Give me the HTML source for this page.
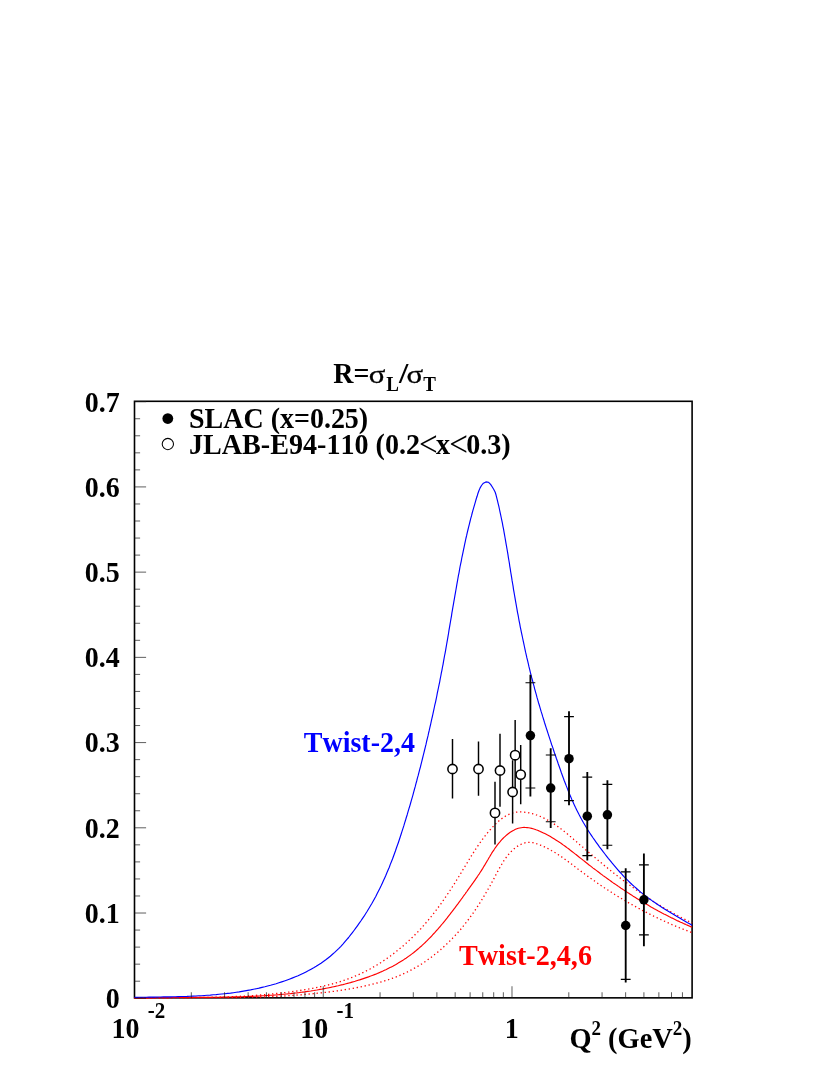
<!DOCTYPE html>
<html><head><meta charset="utf-8"><title>R = sigma_L / sigma_T</title>
<style>
html,body{margin:0;padding:0;background:#fff;}
body{width:830px;height:1075px;overflow:hidden;}
svg{display:block;will-change:transform;}
text{font-family:"Liberation Serif",serif;font-weight:bold;font-size:28px;fill:#000;font-kerning:none;font-variant-ligatures:none;}
.sym{font-weight:normal;}
</style></head><body>
<svg width="830" height="1075" viewBox="0 0 830 1075">
<rect x="0" y="0" width="830" height="1075" fill="#fff"/>
<rect x="134.5" y="401.3" width="557.6" height="596.55" fill="none" stroke="#000" stroke-width="1.6"/>
<path d="M134.5,998.1L136.1,998.1L137.7,998.0L139.3,998.0L140.9,998.0L142.5,998.0L144.1,998.0L145.7,997.9L147.3,997.9L148.9,997.9L150.5,997.9L152.1,997.9L153.7,997.9L155.3,997.9L156.9,997.8L158.5,997.8L160.1,997.8L161.7,997.8L163.3,997.8L164.9,997.8L166.5,997.8L168.1,997.8L169.7,997.8L171.3,997.8L172.9,997.7L174.5,997.7L176.1,997.7L177.7,997.7L179.3,997.7L180.9,997.7L182.4,997.7L184.0,997.7L185.6,997.6L187.2,997.6L188.8,997.6L190.4,997.6L192.0,997.6L193.6,997.6L195.2,997.5L196.8,997.5L198.4,997.5L200.0,997.5L201.6,997.5L203.2,997.4L204.8,997.4L206.4,997.4L208.0,997.3L209.6,997.3L211.1,997.3L212.7,997.2L214.3,997.2L215.9,997.2L217.5,997.1L219.1,997.1L220.7,997.0L222.3,997.0L223.9,996.9L225.5,996.9L227.1,996.8L228.7,996.8L230.2,996.7L231.8,996.7L233.4,996.6L235.0,996.5L236.6,996.5L238.2,996.4L239.8,996.3L241.4,996.2L243.0,996.1L244.6,996.1L246.1,996.0L247.7,995.9L249.3,995.8L250.9,995.7L252.5,995.6L254.1,995.5L255.7,995.4L257.3,995.2L258.9,995.1L260.4,995.0L262.0,994.9L263.6,994.7L265.2,994.6L266.8,994.5L268.4,994.3L270.0,994.2L271.6,994.0L273.1,993.9L274.7,993.7L276.3,993.5L277.9,993.4L279.5,993.2L281.1,993.0L282.7,992.8L284.3,992.7L285.8,992.5L287.4,992.3L289.0,992.1L290.6,991.8L292.2,991.6L293.8,991.4L295.3,991.2L296.9,991.0L298.5,990.7L300.1,990.5L301.7,990.2L303.3,990.0L304.9,989.7L306.4,989.5L308.0,989.2L309.6,988.9L311.2,988.6L312.8,988.3L314.3,988.0L315.9,987.7L317.5,987.4L319.1,987.1L320.6,986.7L322.2,986.4L323.8,986.0L325.3,985.7L326.9,985.3L328.5,984.9L330.0,984.5L331.6,984.1L333.1,983.7L334.6,983.3L336.2,982.8L337.7,982.4L339.2,981.9L340.8,981.4L342.3,980.9L343.8,980.4L345.3,979.9L346.8,979.4L348.3,978.8L349.8,978.3L351.3,977.7L352.8,977.1L354.2,976.5L355.7,975.9L357.2,975.3L358.6,974.6L360.1,974.0L361.5,973.3L362.9,972.6L364.4,971.9L365.8,971.2L367.2,970.4L368.6,969.7L370.0,969.0L371.4,968.2L372.8,967.4L374.2,966.6L375.5,965.8L376.9,965.0L378.3,964.2L379.6,963.3L381.0,962.5L382.3,961.6L383.6,960.7L385.0,959.8L386.3,958.9L387.6,958.0L388.9,957.1L390.2,956.2L391.5,955.2L392.7,954.3L394.0,953.3L395.3,952.3L396.5,951.3L397.8,950.3L399.0,949.3L400.2,948.3L401.5,947.3L402.7,946.2L403.9,945.2L405.1,944.1L406.3,943.1L407.4,942.0L408.6,940.9L409.8,939.8L410.9,938.7L412.1,937.6L413.2,936.5L414.4,935.4L415.5,934.2L416.6,933.1L417.7,932.0L418.8,930.8L419.9,929.6L421.0,928.5L422.0,927.3L423.1,926.1L424.2,924.9L425.2,923.7L426.2,922.5L427.3,921.3L428.3,920.1L429.3,918.8L430.3,917.6L431.3,916.4L432.3,915.1L433.3,913.9L434.3,912.6L435.3,911.4L436.2,910.1L437.2,908.8L438.1,907.5L439.1,906.3L440.0,905.0L441.0,903.7L441.9,902.4L442.8,901.1L443.7,899.8L444.6,898.5L445.5,897.1L446.5,895.8L447.3,894.5L448.2,893.2L449.1,891.8L450.0,890.5L450.9,889.2L451.8,887.8L452.6,886.5L453.5,885.1L454.3,883.8L455.2,882.4L456.0,881.1L456.9,879.7L457.7,878.3L458.6,877.0L459.4,875.6L460.2,874.2L461.1,872.9L461.9,871.5L462.7,870.1L463.6,868.8L464.4,867.4L465.2,866.0L466.0,864.6L466.9,863.3L467.7,861.9L468.5,860.5L469.4,859.2L470.2,857.8L471.0,856.4L471.9,855.1L472.7,853.7L473.6,852.4L474.4,851.0L475.3,849.7L476.2,848.3L477.1,847.0L478.0,845.7L478.9,844.4L479.8,843.1L480.7,841.8L481.7,840.5L482.6,839.2L483.6,837.9L484.5,836.6L485.5,835.4L486.5,834.1L487.5,832.9L488.6,831.7L489.6,830.4L490.7,829.2L491.7,828.0L492.8,826.9L494.0,825.7L495.1,824.5L496.2,823.4L497.4,822.3L498.6,821.2L499.8,820.2L501.0,819.2L502.3,818.2L503.6,817.3L504.9,816.5L506.2,815.7L507.6,815.0L509.0,814.3L510.4,813.7L511.8,813.2L513.3,812.8L514.8,812.5L516.3,812.2L517.8,812.0L519.4,811.9L520.9,811.9L522.5,812.0L524.1,812.1L525.6,812.3L527.2,812.5L528.8,812.8L530.4,813.2L531.9,813.6L533.5,814.0L535.0,814.5L536.6,815.0L538.1,815.6L539.6,816.2L541.1,816.8L542.5,817.5L544.0,818.2L545.4,818.9L546.8,819.6L548.2,820.4L549.6,821.2L550.9,822.0L552.3,822.8L553.6,823.7L555.0,824.6L556.3,825.5L557.6,826.4L558.9,827.3L560.2,828.3L561.4,829.2L562.7,830.2L564.0,831.2L565.2,832.2L566.4,833.2L567.7,834.2L568.9,835.2L570.1,836.3L571.4,837.3L572.6,838.3L573.8,839.4L575.0,840.4L576.2,841.5L577.4,842.6L578.6,843.6L579.8,844.7L581.1,845.7L582.3,846.8L583.5,847.8L584.7,848.9L585.9,849.9L587.1,851.0L588.3,852.0L589.6,853.1L590.8,854.1L592.0,855.1L593.2,856.2L594.4,857.2L595.7,858.2L596.9,859.3L598.1,860.3L599.3,861.3L600.6,862.3L601.8,863.3L603.0,864.4L604.3,865.4L605.5,866.4L606.8,867.4L608.0,868.4L609.2,869.4L610.5,870.4L611.7,871.4L613.0,872.4L614.2,873.4L615.5,874.3L616.7,875.3L618.0,876.3L619.3,877.3L620.5,878.2L621.8,879.2L623.0,880.2L624.3,881.1L625.6,882.1L626.9,883.0L628.1,884.0L629.4,884.9L630.7,885.9L632.0,886.8L633.3,887.7L634.6,888.7L635.9,889.6L637.2,890.5L638.5,891.4L639.8,892.3L641.1,893.2L642.4,894.1L643.7,895.0L645.0,895.9L646.3,896.8L647.7,897.7L649.0,898.6L650.3,899.4L651.7,900.3L653.0,901.2L654.3,902.0L655.7,902.9L657.0,903.7L658.4,904.6L659.8,905.4L661.1,906.2L662.5,907.1L663.8,907.9L665.2,908.7L666.6,909.5L668.0,910.3L669.4,911.1L670.8,911.9L672.2,912.7L673.6,913.4L675.0,914.2L676.4,915.0L677.8,915.7L679.2,916.5L680.6,917.2L682.0,918.0L683.5,918.7L684.9,919.4L686.4,920.2L687.8,920.9L689.3,921.6L690.7,922.3L692.1,922.9" stroke="#ff0000" stroke-width="1.3" fill="none" stroke-dasharray="1.3 2.75" stroke-linejoin="round"/>
<path d="M134.5,998.1L136.0,998.1L137.6,998.1L139.1,998.1L140.7,998.1L142.2,998.1L143.7,998.1L145.3,998.0L146.8,998.0L148.4,998.0L149.9,998.0L151.5,997.9L153.0,997.9L154.5,997.9L156.1,997.9L157.6,997.9L159.2,997.9L160.7,997.9L162.3,997.8L163.8,997.8L165.3,997.8L166.9,997.8L168.4,997.8L170.0,997.8L171.5,997.8L173.1,997.8L174.6,997.8L176.1,997.8L177.7,997.8L179.2,997.8L180.8,997.8L182.3,997.8L183.9,997.8L185.4,997.8L186.9,997.8L188.5,997.8L190.0,997.8L191.6,997.8L193.1,997.8L194.7,997.7L196.2,997.7L197.7,997.7L199.3,997.7L200.8,997.7L202.4,997.7L203.9,997.7L205.5,997.7L207.0,997.7L208.5,997.7L210.1,997.7L211.6,997.7L213.2,997.7L214.7,997.7L216.2,997.7L217.8,997.7L219.3,997.7L220.9,997.7L222.4,997.7L224.0,997.7L225.5,997.6L227.0,997.6L228.6,997.6L230.1,997.6L231.7,997.6L233.2,997.6L234.8,997.5L236.3,997.5L237.8,997.5L239.4,997.5L240.9,997.5L242.5,997.4L244.0,997.4L245.5,997.4L247.1,997.3L248.6,997.3L250.2,997.3L251.7,997.2L253.2,997.2L254.8,997.2L256.3,997.1L257.9,997.1L259.4,997.0L260.9,997.0L262.5,996.9L264.0,996.9L265.6,996.8L267.1,996.8L268.6,996.7L270.2,996.6L271.7,996.6L273.3,996.5L274.8,996.4L276.3,996.4L277.9,996.3L279.4,996.2L280.9,996.1L282.5,996.0L284.0,996.0L285.6,995.9L287.1,995.8L288.6,995.7L290.2,995.6L291.7,995.5L293.2,995.4L294.8,995.3L296.3,995.2L297.8,995.0L299.4,994.9L300.9,994.8L302.4,994.7L304.0,994.5L305.5,994.4L307.1,994.3L308.6,994.1L310.1,994.0L311.7,993.9L313.2,993.7L314.7,993.5L316.3,993.4L317.8,993.2L319.3,993.1L320.8,992.9L322.4,992.7L323.9,992.5L325.4,992.4L327.0,992.2L328.5,992.0L330.0,991.8L331.6,991.6L333.1,991.4L334.6,991.2L336.2,991.0L337.7,990.8L339.2,990.5L340.7,990.3L342.3,990.1L343.8,989.8L345.3,989.6L346.9,989.4L348.4,989.1L349.9,988.8L351.4,988.6L353.0,988.3L354.5,988.0L356.0,987.8L357.5,987.5L359.0,987.2L360.6,986.9L362.1,986.6L363.6,986.3L365.1,985.9L366.6,985.6L368.1,985.3L369.6,984.9L371.1,984.6L372.6,984.2L374.1,983.8L375.6,983.4L377.1,983.0L378.6,982.6L380.1,982.2L381.6,981.8L383.0,981.4L384.5,980.9L386.0,980.5L387.4,980.0L388.9,979.5L390.3,979.0L391.8,978.5L393.2,978.0L394.7,977.4L396.1,976.9L397.5,976.3L398.9,975.8L400.3,975.2L401.8,974.6L403.2,973.9L404.6,973.3L405.9,972.7L407.3,972.0L408.7,971.3L410.1,970.6L411.4,969.9L412.8,969.2L414.1,968.4L415.5,967.7L416.8,966.9L418.1,966.1L419.4,965.3L420.7,964.5L422.0,963.7L423.3,962.8L424.6,962.0L425.9,961.1L427.2,960.2L428.4,959.3L429.7,958.4L430.9,957.5L432.1,956.5L433.4,955.6L434.6,954.6L435.8,953.7L437.0,952.7L438.2,951.7L439.4,950.7L440.6,949.7L441.7,948.7L442.9,947.6L444.0,946.6L445.2,945.5L446.3,944.5L447.4,943.4L448.5,942.3L449.6,941.2L450.7,940.1L451.8,939.0L452.9,937.9L454.0,936.8L455.0,935.6L456.1,934.5L457.1,933.4L458.1,932.2L459.2,931.0L460.2,929.9L461.2,928.7L462.2,927.5L463.1,926.3L464.1,925.1L465.1,923.9L466.0,922.7L466.9,921.5L467.9,920.3L468.8,919.1L469.7,917.9L470.6,916.6L471.5,915.4L472.4,914.2L473.3,912.9L474.1,911.7L475.0,910.4L475.8,909.1L476.7,907.9L477.5,906.6L478.3,905.3L479.2,904.0L480.0,902.7L480.8,901.5L481.6,900.2L482.4,898.8L483.2,897.5L484.0,896.2L484.8,894.9L485.6,893.6L486.3,892.2L487.1,890.9L487.9,889.5L488.6,888.2L489.4,886.8L490.2,885.5L490.9,884.1L491.7,882.7L492.4,881.4L493.2,880.0L493.9,878.6L494.7,877.2L495.4,875.8L496.1,874.4L496.9,873.0L497.6,871.6L498.4,870.2L499.1,868.8L499.9,867.4L500.7,866.1L501.5,864.7L502.3,863.3L503.1,862.0L503.9,860.7L504.8,859.4L505.7,858.1L506.6,856.9L507.5,855.7L508.5,854.5L509.4,853.3L510.5,852.2L511.5,851.2L512.6,850.1L513.7,849.1L514.8,848.2L516.0,847.3L517.3,846.4L518.5,845.6L519.9,844.9L521.2,844.2L522.6,843.6L524.0,843.1L525.5,842.7L527.0,842.4L528.4,842.3L529.9,842.3L531.4,842.5L533.0,842.7L534.5,843.1L535.9,843.5L537.4,844.0L538.9,844.6L540.3,845.1L541.8,845.7L543.2,846.3L544.6,846.9L546.0,847.6L547.4,848.3L548.7,849.0L550.1,849.7L551.4,850.5L552.7,851.2L554.1,852.0L555.4,852.8L556.7,853.6L558.0,854.5L559.2,855.3L560.5,856.2L561.8,857.0L563.1,857.9L564.3,858.8L565.6,859.7L566.8,860.6L568.1,861.5L569.3,862.5L570.5,863.4L571.8,864.3L573.0,865.3L574.2,866.2L575.5,867.1L576.7,868.1L577.9,869.0L579.2,869.9L580.4,870.9L581.7,871.8L582.9,872.7L584.1,873.6L585.4,874.6L586.6,875.5L587.9,876.4L589.2,877.3L590.4,878.2L591.7,879.1L592.9,880.0L594.2,880.8L595.5,881.7L596.7,882.6L598.0,883.5L599.3,884.4L600.6,885.2L601.9,886.1L603.1,886.9L604.4,887.8L605.7,888.6L607.0,889.5L608.3,890.3L609.6,891.2L610.9,892.0L612.2,892.8L613.5,893.6L614.8,894.5L616.1,895.3L617.4,896.1L618.7,896.9L620.1,897.7L621.4,898.5L622.7,899.3L624.0,900.1L625.3,900.8L626.7,901.6L628.0,902.4L629.3,903.2L630.7,903.9L632.0,904.7L633.4,905.4L634.7,906.2L636.0,906.9L637.4,907.7L638.7,908.4L640.1,909.1L641.5,909.9L642.8,910.6L644.2,911.3L645.5,912.0L646.9,912.7L648.3,913.4L649.7,914.1L651.0,914.8L652.4,915.5L653.8,916.2L655.2,916.8L656.6,917.5L657.9,918.2L659.3,918.8L660.7,919.5L662.1,920.2L663.5,920.8L664.9,921.4L666.3,922.1L667.7,922.7L669.1,923.3L670.6,923.9L672.0,924.6L673.4,925.2L674.8,925.8L676.2,926.4L677.7,927.0L679.1,927.6L680.5,928.1L681.9,928.7L683.4,929.3L684.8,929.9L686.3,930.4L687.7,931.0L689.2,931.5L690.6,932.1L692.1,932.4" stroke="#ff0000" stroke-width="1.3" fill="none" stroke-dasharray="1.3 2.75" stroke-linejoin="round"/>
<path d="M134.5,998.1L136.1,998.1L137.6,998.1L139.2,998.1L140.7,998.1L142.3,998.1L143.9,998.0L145.4,998.0L147.0,997.9L148.5,997.9L150.1,997.9L151.7,997.8L153.2,997.8L154.8,997.8L156.3,997.7L157.9,997.7L159.5,997.7L161.0,997.7L162.6,997.6L164.1,997.6L165.7,997.6L167.3,997.6L168.8,997.6L170.4,997.5L172.0,997.5L173.5,997.5L175.1,997.5L176.7,997.5L178.2,997.5L179.8,997.5L181.3,997.5L182.9,997.4L184.5,997.4L186.0,997.4L187.6,997.4L189.2,997.4L190.7,997.4L192.3,997.4L193.9,997.4L195.4,997.4L197.0,997.4L198.6,997.4L200.1,997.3L201.7,997.3L203.3,997.3L204.8,997.3L206.4,997.3L208.0,997.3L209.5,997.3L211.1,997.3L212.6,997.3L214.2,997.2L215.8,997.2L217.3,997.2L218.9,997.2L220.5,997.2L222.0,997.1L223.6,997.1L225.2,997.1L226.7,997.1L228.3,997.0L229.9,997.0L231.4,997.0L233.0,996.9L234.5,996.9L236.1,996.9L237.7,996.8L239.2,996.8L240.8,996.7L242.4,996.7L243.9,996.6L245.5,996.6L247.0,996.5L248.6,996.5L250.2,996.4L251.7,996.3L253.3,996.3L254.8,996.2L256.4,996.1L258.0,996.1L259.5,996.0L261.1,995.9L262.6,995.8L264.2,995.7L265.7,995.6L267.3,995.5L268.9,995.4L270.4,995.3L272.0,995.2L273.5,995.1L275.1,995.0L276.6,994.9L278.2,994.7L279.7,994.6L281.3,994.5L282.8,994.3L284.4,994.2L286.0,994.0L287.5,993.9L289.1,993.7L290.6,993.6L292.2,993.4L293.7,993.2L295.2,993.0L296.8,992.9L298.3,992.7L299.9,992.5L301.4,992.3L303.0,992.1L304.5,991.9L306.1,991.6L307.6,991.4L309.2,991.2L310.7,991.0L312.2,990.7L313.8,990.5L315.3,990.2L316.9,990.0L318.4,989.7L319.9,989.4L321.5,989.2L323.0,988.9L324.5,988.6L326.1,988.3L327.6,988.0L329.1,987.7L330.7,987.4L332.2,987.0L333.7,986.7L335.3,986.4L336.8,986.0L338.3,985.7L339.9,985.3L341.4,984.9L342.9,984.6L344.4,984.2L346.0,983.8L347.5,983.4L349.0,983.0L350.5,982.6L352.0,982.1L353.6,981.7L355.1,981.3L356.6,980.8L358.1,980.3L359.6,979.9L361.1,979.4L362.6,978.9L364.1,978.4L365.5,977.9L367.0,977.4L368.5,976.9L370.0,976.3L371.4,975.8L372.9,975.2L374.4,974.6L375.8,974.1L377.3,973.5L378.7,972.9L380.1,972.2L381.6,971.6L383.0,971.0L384.4,970.3L385.8,969.7L387.2,969.0L388.6,968.3L390.0,967.6L391.4,966.9L392.8,966.2L394.1,965.4L395.5,964.7L396.8,963.9L398.2,963.1L399.5,962.3L400.8,961.5L402.1,960.7L403.4,959.9L404.7,959.0L406.0,958.2L407.3,957.3L408.5,956.4L409.8,955.5L411.0,954.6L412.3,953.6L413.5,952.7L414.7,951.7L415.9,950.8L417.1,949.8L418.3,948.8L419.5,947.7L420.6,946.7L421.8,945.7L422.9,944.6L424.0,943.6L425.2,942.5L426.3,941.4L427.4,940.3L428.5,939.2L429.6,938.1L430.7,937.0L431.8,935.8L432.8,934.7L433.9,933.5L435.0,932.4L436.0,931.2L437.1,930.0L438.1,928.8L439.1,927.6L440.2,926.5L441.2,925.2L442.2,924.0L443.2,922.8L444.2,921.6L445.2,920.4L446.2,919.1L447.2,917.9L448.1,916.7L449.1,915.4L450.1,914.2L451.0,912.9L452.0,911.7L453.0,910.4L453.9,909.2L454.9,907.9L455.8,906.6L456.7,905.4L457.7,904.1L458.6,902.8L459.5,901.6L460.5,900.3L461.4,899.0L462.3,897.8L463.2,896.5L464.2,895.2L465.1,894.0L466.0,892.7L466.9,891.5L467.8,890.2L468.7,888.9L469.6,887.7L470.5,886.4L471.4,885.2L472.3,883.9L473.2,882.7L474.1,881.4L475.0,880.1L475.8,878.9L476.7,877.6L477.6,876.3L478.4,875.0L479.3,873.8L480.1,872.5L481.0,871.2L481.8,869.9L482.6,868.6L483.4,867.2L484.2,865.9L485.0,864.6L485.8,863.2L486.6,861.9L487.4,860.5L488.2,859.2L489.0,857.8L489.8,856.5L490.6,855.1L491.4,853.8L492.2,852.4L493.1,851.1L494.0,849.8L494.8,848.5L495.8,847.2L496.7,845.9L497.6,844.6L498.6,843.3L499.7,842.1L500.7,840.9L501.8,839.7L502.9,838.5L504.0,837.4L505.2,836.3L506.4,835.2L507.6,834.2L508.9,833.2L510.2,832.3L511.5,831.5L512.8,830.7L514.2,830.0L515.5,829.3L516.9,828.8L518.3,828.3L519.7,828.0L521.2,827.7L522.6,827.5L524.1,827.4L525.6,827.5L527.1,827.6L528.6,827.8L530.0,828.0L531.6,828.4L533.1,828.8L534.6,829.2L536.0,829.8L537.5,830.3L539.0,830.9L540.5,831.6L541.9,832.2L543.4,832.9L544.8,833.6L546.2,834.3L547.6,835.1L549.0,835.8L550.4,836.6L551.8,837.4L553.1,838.2L554.4,839.0L555.8,839.9L557.1,840.7L558.4,841.6L559.7,842.4L561.0,843.3L562.3,844.2L563.5,845.1L564.8,846.0L566.1,847.0L567.3,847.9L568.6,848.8L569.8,849.8L571.0,850.7L572.3,851.7L573.5,852.6L574.7,853.6L576.0,854.5L577.2,855.5L578.4,856.5L579.6,857.5L580.8,858.4L582.1,859.4L583.3,860.4L584.5,861.3L585.7,862.3L587.0,863.3L588.2,864.2L589.4,865.2L590.7,866.1L591.9,867.1L593.1,868.1L594.4,869.0L595.6,869.9L596.9,870.9L598.1,871.8L599.4,872.8L600.6,873.7L601.9,874.6L603.1,875.6L604.4,876.5L605.7,877.4L606.9,878.3L608.2,879.2L609.5,880.1L610.7,881.0L612.0,882.0L613.3,882.9L614.6,883.7L615.9,884.6L617.2,885.5L618.4,886.4L619.7,887.3L621.0,888.2L622.3,889.0L623.6,889.9L624.9,890.8L626.2,891.6L627.5,892.5L628.8,893.3L630.2,894.2L631.5,895.0L632.8,895.9L634.1,896.7L635.4,897.5L636.8,898.4L638.1,899.2L639.4,900.0L640.7,900.8L642.1,901.6L643.4,902.4L644.8,903.2L646.1,904.0L647.5,904.8L648.8,905.6L650.2,906.4L651.5,907.2L652.9,907.9L654.2,908.7L655.6,909.5L657.0,910.2L658.3,911.0L659.7,911.7L661.1,912.4L662.5,913.2L663.8,913.9L665.2,914.6L666.6,915.3L668.0,916.0L669.4,916.8L670.8,917.5L672.2,918.1L673.6,918.8L675.0,919.5L676.4,920.2L677.8,920.9L679.2,921.5L680.6,922.2L682.1,922.8L683.5,923.5L684.9,924.1L686.3,924.8L687.8,925.4L689.2,926.0L690.6,926.6L692.1,927.2" stroke="#ff0000" stroke-width="1.15" fill="none" stroke-linejoin="round"/>
<path d="M134.5,997.3L137.4,997.3L140.3,997.2L143.2,997.2L146.1,997.2L149.0,997.1L152.0,997.1L154.9,997.1L157.8,997.0L160.7,997.0L163.6,996.9L166.5,996.9L169.4,996.8L172.4,996.8L175.3,996.7L178.2,996.6L181.1,996.5L184.0,996.5L187.0,996.4L189.9,996.2L192.8,996.1L195.7,996.0L198.6,995.8L201.5,995.7L204.4,995.5L207.3,995.3L210.3,995.1L213.2,994.8L216.1,994.6L219.0,994.3L221.8,994.0L224.7,993.7L227.6,993.4L230.5,993.1L233.4,992.7L236.3,992.3L239.2,991.9L242.0,991.4L244.9,990.9L247.7,990.4L250.6,989.9L253.5,989.3L256.3,988.7L259.1,988.1L262.0,987.4L264.8,986.8L267.6,986.0L270.5,985.3L273.3,984.5L276.1,983.7L278.9,982.8L281.7,981.9L284.4,981.0L287.2,980.0L289.9,979.0L292.7,977.9L295.4,976.8L298.1,975.7L300.7,974.5L303.4,973.2L306.0,971.9L308.6,970.6L311.1,969.2L313.7,967.8L316.2,966.3L318.6,964.7L321.0,963.2L323.4,961.5L325.8,959.8L328.1,958.0L330.3,956.2L332.5,954.3L334.7,952.4L336.8,950.4L338.9,948.4L340.9,946.3L342.9,944.1L344.8,941.9L346.7,939.7L348.6,937.5L350.4,935.2L352.2,932.9L354.0,930.5L355.7,928.2L357.4,925.8L359.1,923.4L360.8,921.0L362.4,918.6L364.1,916.2L365.6,913.7L367.2,911.3L368.7,908.8L370.2,906.3L371.7,903.8L373.1,901.3L374.5,898.7L375.9,896.2L377.2,893.6L378.5,891.0L379.8,888.4L381.1,885.8L382.3,883.2L383.5,880.5L384.7,877.9L385.9,875.2L387.0,872.5L388.2,869.8L389.3,867.2L390.3,864.4L391.4,861.7L392.5,859.0L393.5,856.3L394.5,853.5L395.5,850.8L396.4,848.0L397.4,845.3L398.4,842.5L399.3,839.8L400.2,837.0L401.1,834.2L402.0,831.4L402.9,828.6L403.8,825.9L404.6,823.1L405.5,820.3L406.3,817.5L407.2,814.7L408.0,811.9L408.8,809.1L409.7,806.3L410.5,803.5L411.3,800.7L412.1,797.9L412.9,795.1L413.6,792.3L414.4,789.5L415.2,786.7L415.9,783.9L416.7,781.0L417.4,778.2L418.2,775.4L418.9,772.6L419.6,769.8L420.4,767.0L421.1,764.2L421.8,761.3L422.5,758.5L423.2,755.7L423.9,752.9L424.6,750.0L425.3,747.2L426.0,744.4L426.6,741.5L427.3,738.7L428.0,735.9L428.6,733.0L429.3,730.2L429.9,727.4L430.6,724.5L431.2,721.7L431.8,718.8L432.5,716.0L433.1,713.1L433.7,710.3L434.3,707.5L434.9,704.6L435.6,701.8L436.2,698.9L436.8,696.0L437.3,693.2L437.9,690.3L438.5,687.5L439.1,684.6L439.7,681.8L440.2,678.9L440.8,676.0L441.3,673.2L441.9,670.3L442.4,667.5L443.0,664.6L443.5,661.7L444.0,658.9L444.5,656.0L445.1,653.1L445.6,650.3L446.1,647.4L446.6,644.5L447.1,641.7L447.6,638.8L448.1,635.9L448.6,633.0L449.0,630.2L449.5,627.3L450.0,624.4L450.5,621.5L451.0,618.7L451.5,615.8L451.9,612.9L452.4,610.1L452.9,607.2L453.4,604.3L453.9,601.4L454.4,598.6L454.9,595.7L455.4,592.8L455.9,590.0L456.4,587.1L456.9,584.2L457.4,581.4L457.9,578.5L458.4,575.6L459.0,572.8L459.5,569.9L460.0,567.0L460.6,564.2L461.2,561.3L461.7,558.5L462.3,555.6L462.9,552.8L463.5,549.9L464.1,547.1L464.7,544.2L465.3,541.4L465.9,538.5L466.6,535.7L467.2,532.8L467.9,530.0L468.6,527.2L469.3,524.3L470.0,521.5L470.7,518.7L471.5,515.9L472.2,513.0L473.0,510.2L473.8,507.4L474.6,504.6L475.4,501.8L476.2,499.0L477.1,496.3L477.9,493.5L478.9,490.7L480.0,488.1L481.5,485.5L483.4,483.2L485.9,481.9L488.6,482.3L490.6,484.4L492.3,487.0L493.8,489.5L495.1,492.0L496.0,494.8L496.7,497.6L497.4,500.4L498.1,503.3L498.8,506.1L499.4,509.0L500.0,511.8L500.6,514.7L501.2,517.5L501.8,520.4L502.4,523.2L502.9,526.1L503.5,528.9L504.0,531.8L504.5,534.7L505.0,537.5L505.5,540.4L506.0,543.3L506.5,546.1L507.0,549.0L507.5,551.9L508.0,554.8L508.4,557.6L508.9,560.5L509.4,563.4L509.8,566.3L510.3,569.1L510.7,572.0L511.2,574.9L511.7,577.8L512.1,580.7L512.6,583.5L513.1,586.4L513.5,589.3L514.0,592.2L514.5,595.0L515.0,597.9L515.5,600.8L516.0,603.6L516.5,606.5L517.0,609.4L517.5,612.3L518.1,615.1L518.6,618.0L519.1,620.8L519.7,623.7L520.2,626.6L520.8,629.4L521.4,632.3L522.0,635.1L522.6,638.0L523.2,640.8L523.8,643.7L524.4,646.5L525.0,649.4L525.6,652.2L526.3,655.1L526.9,657.9L527.6,660.7L528.3,663.6L528.9,666.4L529.6,669.2L530.3,672.1L531.0,674.9L531.7,677.7L532.5,680.5L533.2,683.3L534.0,686.2L534.7,689.0L535.5,691.8L536.3,694.6L537.0,697.4L537.8,700.2L538.6,703.0L539.5,705.8L540.3,708.6L541.1,711.4L542.0,714.1L542.8,716.9L543.7,719.7L544.5,722.5L545.4,725.3L546.3,728.1L547.2,730.8L548.1,733.6L549.0,736.4L549.9,739.1L550.8,741.9L551.7,744.7L552.7,747.4L553.6,750.2L554.5,753.0L555.5,755.7L556.4,758.5L557.4,761.2L558.3,764.0L559.3,766.7L560.3,769.5L561.2,772.3L562.2,775.0L563.2,777.7L564.2,780.5L565.3,783.2L566.3,785.9L567.4,788.6L568.4,791.3L569.5,794.0L570.7,796.7L571.8,799.4L573.0,802.1L574.2,804.7L575.4,807.3L576.7,809.9L578.0,812.5L579.3,815.1L580.7,817.7L582.1,820.2L583.5,822.8L585.0,825.3L586.5,827.8L588.0,830.2L589.6,832.7L591.2,835.1L592.8,837.5L594.5,839.9L596.2,842.3L597.9,844.7L599.6,847.1L601.4,849.4L603.1,851.7L604.9,854.0L606.7,856.3L608.5,858.6L610.4,860.9L612.2,863.2L614.1,865.4L616.0,867.6L617.9,869.8L619.8,872.0L621.8,874.1L623.7,876.3L625.8,878.4L627.8,880.4L629.9,882.5L632.0,884.5L634.1,886.4L636.3,888.3L638.5,890.2L640.7,892.1L643.0,893.9L645.3,895.7L647.6,897.4L650.0,899.2L652.4,900.9L654.8,902.5L657.2,904.2L659.6,905.8L662.1,907.4L664.5,908.9L667.0,910.5L669.5,912.0L672.0,913.5L674.5,915.0L677.0,916.5L679.6,918.0L682.1,919.5L684.6,920.9L687.1,922.4L689.6,923.8L692.1,925.3" stroke="#0000ff" stroke-width="1.15" fill="none" stroke-linejoin="round"/>
<path d="M134.50,998.25h11.6M134.50,981.21h5.6M134.50,964.16h5.6M134.50,947.12h5.6M134.50,930.07h5.6M134.50,913.03h11.6M134.50,895.98h5.6M134.50,878.94h5.6M134.50,861.90h5.6M134.50,844.85h5.6M134.50,827.81h11.6M134.50,810.76h5.6M134.50,793.72h5.6M134.50,776.67h5.6M134.50,759.63h5.6M134.50,742.59h11.6M134.50,725.54h5.6M134.50,708.50h5.6M134.50,691.45h5.6M134.50,674.41h5.6M134.50,657.36h11.6M134.50,640.32h5.6M134.50,623.28h5.6M134.50,606.23h5.6M134.50,589.19h5.6M134.50,572.14h11.6M134.50,555.10h5.6M134.50,538.05h5.6M134.50,521.01h5.6M134.50,503.97h5.6M134.50,486.92h11.6M134.50,469.88h5.6M134.50,452.83h5.6M134.50,435.79h5.6M134.50,418.74h5.6M134.50,401.70h11.6M191.32,997.85v-5.6M224.55,997.85v-5.6M248.14,997.85v-5.6M266.43,997.85v-5.6M281.37,997.85v-5.6M294.01,997.85v-5.6M304.95,997.85v-5.6M314.61,997.85v-5.6M323.25,997.85v-11.6M380.06,997.85v-5.6M413.30,997.85v-5.6M436.88,997.85v-5.6M455.17,997.85v-5.6M470.12,997.85v-5.6M482.75,997.85v-5.6M493.70,997.85v-5.6M503.35,997.85v-5.6M511.99,997.85v-11.6M568.81,997.85v-5.6M602.05,997.85v-5.6M625.63,997.85v-5.6M643.92,997.85v-5.6M658.86,997.85v-5.6M671.50,997.85v-5.6M682.45,997.85v-5.6" stroke="#1a1a1a" stroke-width="0.7" fill="none"/>
<path d="M452.50,739.00V798.60M478.50,741.40V795.80M500.00,733.80V806.80M515.15,720.00V790.20M520.70,744.90V804.30M512.60,760.30V823.40M495.00,781.70V844.50" stroke="#000" stroke-width="1.45" fill="none"/>
<circle cx="452.50" cy="769.00" r="4.65" fill="#fff" stroke="#000" stroke-width="1.55"/>
<circle cx="478.50" cy="769.00" r="4.65" fill="#fff" stroke="#000" stroke-width="1.55"/>
<circle cx="500.00" cy="770.50" r="4.65" fill="#fff" stroke="#000" stroke-width="1.55"/>
<circle cx="515.15" cy="755.20" r="4.65" fill="#fff" stroke="#000" stroke-width="1.55"/>
<circle cx="520.70" cy="774.60" r="4.65" fill="#fff" stroke="#000" stroke-width="1.55"/>
<circle cx="512.60" cy="792.00" r="4.65" fill="#fff" stroke="#000" stroke-width="1.55"/>
<circle cx="495.00" cy="812.90" r="4.65" fill="#fff" stroke="#000" stroke-width="1.55"/>
<path d="M530.40,674.80V796.60M550.70,748.30V828.00M569.00,711.30V805.30M587.30,772.00V860.60M607.40,780.30V849.20M625.70,868.20V982.60M643.90,853.60V946.30" stroke="#000" stroke-width="1.85" fill="none"/>
<path d="M525.50,682.70h9.8M525.50,788.00h9.8M545.80,755.00h9.8M545.80,821.70h9.8M564.10,716.60h9.8M564.10,800.60h9.8M582.40,777.10h9.8M582.40,855.60h9.8M602.50,784.30h9.8M602.50,845.20h9.8M620.80,871.90h9.8M620.80,979.40h9.8M639.00,864.80h9.8M639.00,934.90h9.8" stroke="#000" stroke-width="1.15" fill="none"/>
<circle cx="530.40" cy="735.60" r="4.75" fill="#000"/>
<circle cx="550.70" cy="788.10" r="4.75" fill="#000"/>
<circle cx="569.00" cy="758.70" r="4.75" fill="#000"/>
<circle cx="587.30" cy="816.20" r="4.75" fill="#000"/>
<circle cx="607.40" cy="814.80" r="4.75" fill="#000"/>
<circle cx="625.70" cy="925.50" r="4.75" fill="#000"/>
<circle cx="643.90" cy="899.80" r="4.75" fill="#000"/>
<circle cx="167.8" cy="418.55" r="5.4" fill="#000"/>
<circle cx="167.85" cy="444.0" r="5.65" fill="#fff" stroke="#000" stroke-width="1.05"/>
<text transform="translate(189.00,427.90) scale(1,1.065)" style="font-size:28px;">SLAC (x=0.25)</text>
<text transform="translate(189.00,453.90) scale(1.004,1.065)" style="font-size:28px;">JLAB-E94-110 (0.2<tspan class="sym" font-size="33px" dx="-1.0" dy="2.3">&lt;</tspan><tspan dx="-1.65" dy="-2.3">x</tspan><tspan class="sym" font-size="33px" dx="-1.0" dy="2.3">&lt;</tspan><tspan dx="-1.65" dy="-2.3">0.3)</tspan></text>
<text transform="translate(333.30,382.80) scale(1,1.065)" style="font-size:28px;">R=</text>
<text transform="translate(368.70,382.80) scale(1.1,0.92)" style="font-size:28px;" class="sym" stroke="#000" stroke-width="0.35">σ</text>
<text transform="translate(386.20,391.40) scale(1,1.065)" style="font-size:19px;">L</text>
<text transform="translate(398.90,382.80) scale(1.2,1.065)" style="font-size:28px;">/</text>
<text transform="translate(406.50,382.80) scale(1.1,0.92)" style="font-size:28px;" class="sym" stroke="#000" stroke-width="0.35">σ</text>
<text transform="translate(423.20,391.40) scale(1,1.065)" style="font-size:19px;">T</text>
<text transform="translate(119.80,1008.15) scale(1,1.065)" style="font-size:28px;" text-anchor="end">0</text>
<text transform="translate(119.80,922.93) scale(1,1.065)" style="font-size:28px;" text-anchor="end">0.1</text>
<text transform="translate(119.80,837.71) scale(1,1.065)" style="font-size:28px;" text-anchor="end">0.2</text>
<text transform="translate(119.80,752.49) scale(1,1.065)" style="font-size:28px;" text-anchor="end">0.3</text>
<text transform="translate(119.80,667.26) scale(1,1.065)" style="font-size:28px;" text-anchor="end">0.4</text>
<text transform="translate(119.80,582.04) scale(1,1.065)" style="font-size:28px;" text-anchor="end">0.5</text>
<text transform="translate(119.80,496.82) scale(1,1.065)" style="font-size:28px;" text-anchor="end">0.6</text>
<text transform="translate(119.80,411.60) scale(1,1.065)" style="font-size:28px;" text-anchor="end">0.7</text>
<text transform="translate(111.50,1038.20) scale(1,1.065)" style="font-size:28px;">10</text>
<text transform="translate(147.80,1018.40) scale(1,1.065)" style="font-size:21px;">-2</text>
<text transform="translate(300.25,1038.20) scale(1,1.065)" style="font-size:28px;">10</text>
<text transform="translate(336.55,1018.40) scale(1,1.065)" style="font-size:21px;">-1</text>
<text transform="translate(511.69,1037.60) scale(1,1.065)" style="font-size:28px;" text-anchor="middle">1</text>
<text transform="translate(691.70,1047.50) scale(1.015,1.065)" style="font-size:28px;" text-anchor="end">Q<tspan font-size="18.7px" dy="-12.11">2</tspan><tspan dy="12.11"> (GeV</tspan><tspan font-size="18.7px" dy="-12.11">2</tspan><tspan dy="12.11">)</tspan></text>
<text transform="translate(303.80,751.90) scale(1,1.065)" style="font-size:28px;fill:#0000ff;">Twist-2,4</text>
<text transform="translate(459.00,965.00) scale(1.006,1.065)" style="font-size:28px;fill:#ff0000;">Twist-2,4,6</text>
</svg>
</body></html>
